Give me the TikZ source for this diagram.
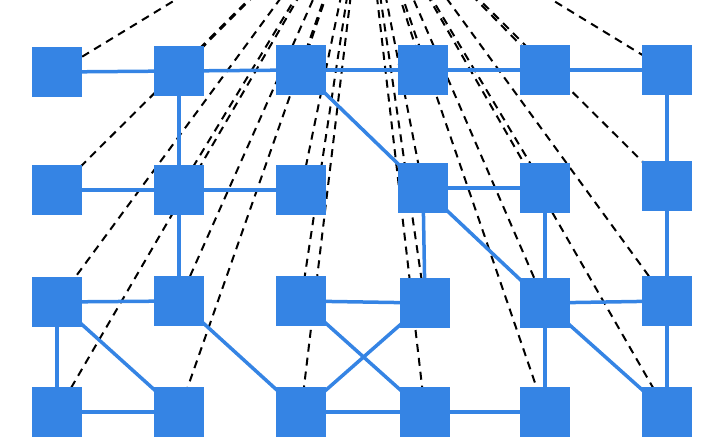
\documentclass[tikz,border=0pt]{standalone}
\usetikzlibrary{backgrounds}
\definecolor{cellblue}{HTML}{3584E4}
\begin{document}
\begin{tikzpicture}[x=1pt, y=-1pt,
	cell/.style={fill=cellblue, minimum size=50pt, inner sep=0pt, outer sep=0pt},
	link/.style={cellblue, line width=3.5pt},
	ray/.style={black, line width=2pt, dash pattern=on 8pt off 6pt}]
	\useasboundingbox (0,0) rectangle (708,438);
	\clip (0,0) rectangle (708,438);
	\node[cell] (a1) at (57,72) {};
	\node[cell] (a2) at (179,71) {};
	\node[cell] (a3) at (301,70) {};
	\node[cell] (a4) at (423,70) {};
	\node[cell] (a5) at (545,70) {};
	\node[cell] (a6) at (667,70) {};
	\node[cell] (b1) at (57,190) {};
	\node[cell] (b2) at (179,190) {};
	\node[cell] (b3) at (301,190) {};
	\node[cell] (b4) at (423,188) {};
	\node[cell] (b5) at (545,188) {};
	\node[cell] (b6) at (667,186) {};
	\node[cell] (c1) at (57,302) {};
	\node[cell] (c2) at (179,301) {};
	\node[cell] (c3) at (301,301) {};
	\node[cell] (c4) at (425,303) {};
	\node[cell] (c5) at (545,303) {};
	\node[cell] (c6) at (667,301) {};
	\node[cell] (d1) at (57,412) {};
	\node[cell] (d2) at (179,412) {};
	\node[cell] (d3) at (301,412) {};
	\node[cell] (d4) at (425,412) {};
	\node[cell] (d5) at (545,412) {};
	\node[cell] (d6) at (667,412) {};
	\begin{scope}[on background layer]
		\clip (0,0) rectangle (708,438);
		\coordinate (apex) at (364,-115);
		\foreach \n in {a1,a2,a3,a4,a5,a6,b1,b2,b3,b4,b5,b6,c1,c2,c3,c4,c5,c6,d1,d2,d3,d4,d5,d6}
			\draw[ray] (apex) -- (\n.center);
		\foreach \u/\v in {a1/a2,a2/a3,a3/a4,a4/a5,a5/a6,a2/b2,a3/b4,a6/b6,
			b1/b2,b2/b3,b4/b5,b2/c2,b4/c4,b4/c5,b5/c5,b6/c6,
			c1/c2,c1/d1,c1/d2,c2/d3,c3/c4,c3/d4,c4/d3,c5/c6,c5/d5,c5/d6,c6/d6,
			d1/d2,d3/d4,d4/d5}
			\draw[link] (\u.center) -- (\v.center);
	\end{scope}
\end{tikzpicture}
\end{document}
